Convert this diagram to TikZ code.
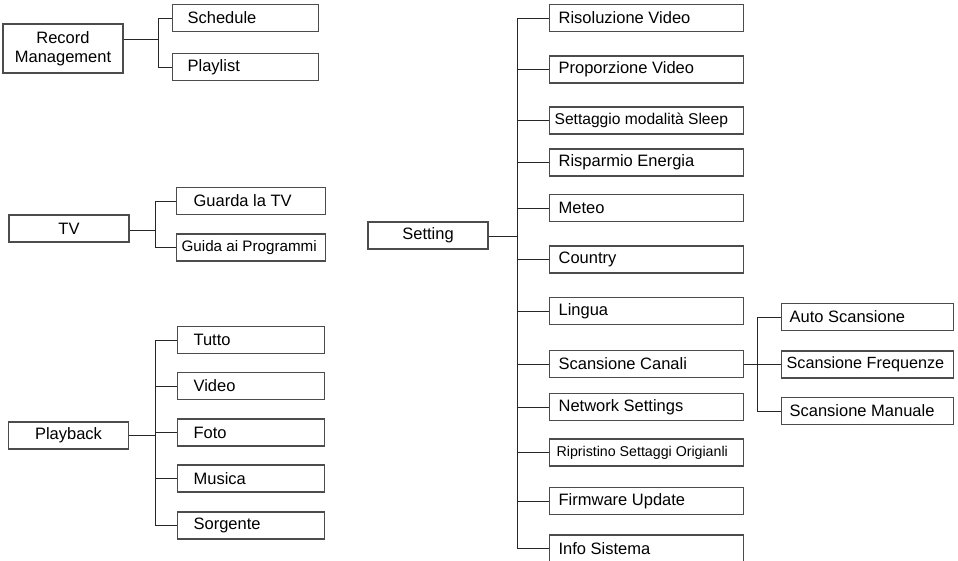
\documentclass[tikz,border=0pt]{standalone}
\usepackage{fontspec}
\setmainfont{Liberation Sans}
\usetikzlibrary{calc}
\tikzset{
  kotak/.style={draw=black!70, line width=1.2pt, minimum height=27pt, inner ysep=0pt, font=\fontsize{16.5}{19}\selectfont},
  induk/.style={kotak, minimum width=120pt, align=center},
  daun/.style 2 args={kotak, anchor=west, inner xsep=#1, text width=#2, align=flush left},
  garis/.style={draw=black!85, line width=1pt}
}

\begin{document}
\begin{tikzpicture}[x=1pt,y=-1pt]

    \useasboundingbox (0,0) rectangle (958,560);

    % Record Management
    \node[induk, minimum height=49pt] (rec) at (63,48.5) {Record\\Management};
    \node[daun={15pt}{116pt}] (sched) at (172,18) {Schedule};
    \node[daun={15pt}{116pt}] (plist) at (172,67) {Playlist};
    \coordinate (rb) at (158,39);
    \draw[garis] (rec.east |- rb) -- (rb);
    \draw[garis] (sched.west) -- (sched.west -| rb) -- (plist.west -| rb) -- (plist.west);

    % TV
    \node[induk] (tv) at (69,228.5) {TV};
    \node[daun={17pt}{115pt}] (guarda) at (176,201) {Guarda la TV};
    \node[daun={5pt}{139pt}, font=\fontsize{15.2}{19}\selectfont] (guida) at (176,247.5) {Guida ai Programmi};
    \coordinate (tb) at (155,230);
    \draw[garis] (tv.east |- tb) -- (tb);
    \draw[garis] (guarda.west) -- (guarda.west -| tb) -- (guida.west -| tb) -- (guida.west);

    % Playback
    \node[induk] (pb) at (68.5,435.5) {Playback};
    \foreach \nama/\y [count=\i] in {Tutto/340, Video/386, Foto/432.5, Musica/478.5, Sorgente/525.5}
        \node[daun={16pt}{115pt}] (pb\i) at (177,\y) {\nama};
    \coordinate (pbb) at (155,435.5);
    \draw[garis] (pb.east) -- (pbb);
    \draw[garis] (pb1.west -| pbb) -- (pb5.west -| pbb);
    \foreach \i in {1,...,5}
        \draw[garis] (pb\i.west -| pbb) -- (pb\i.west);

    % Setting
    \node[induk] (set) at (428,235.5) {Setting};
    \node[daun={9pt}{176pt}] (s1) at (549,18) {Risoluzione Video};
    \node[daun={9pt}{176pt}] (s2) at (549,69.5) {Proporzione Video};
    \node[daun={5pt}{184pt}, font=\fontsize{15.6}{19}\selectfont] (s3) at (549,120.5) {Settaggio modalità Sleep};
    \node[daun={9pt}{176pt}] (s4) at (549,162.5) {Risparmio Energia};
    \node[daun={9pt}{176pt}] (s5) at (549,208) {Meteo};
    \node[daun={9pt}{176pt}] (s6) at (549,259.5) {Country};
    \node[daun={9pt}{176pt}] (s7) at (549,311) {Lingua};
    \node[daun={9pt}{176pt}] (s8) at (549,364) {Scansione Canali};
    \node[daun={9pt}{176pt}] (s9) at (549,407) {Network Settings};
    \node[daun={7pt}{180pt}, font=\fontsize{14.2}{19}\selectfont] (s10) at (549,452.5) {Ripristino Settaggi Origianli};
    \node[daun={9pt}{176pt}] (s11) at (549,501) {Firmware Update};
    \node[daun={9pt}{176pt}] (s12) at (549,548.5) {Info Sistema};
    \coordinate (sb) at (517,236);
    \draw[garis] (set.east |- sb) -- (sb);
    \draw[garis] (s1.west -| sb) -- (s12.west -| sb);
    \foreach \i in {1,...,12}
        \draw[garis] (s\i.west -| sb) -- (s\i.west);

    % Scansione Canali
    \node[daun={8pt}{156pt}] (auto) at (781,317) {Auto Scansione};
    \node[daun={5pt}{162pt}, font=\fontsize{16.2}{19}\selectfont] (freq) at (781,364.5) {Scansione Frequenze};
    \node[daun={8pt}{156pt}] (man) at (781,411) {Scansione Manuale};
    \coordinate (cb) at (757,364.5);
    \draw[garis] (s8.east |- cb) -- (freq.west);
    \draw[garis] (auto.west) -- (auto.west -| cb) -- (man.west -| cb) -- (man.west);

\end{tikzpicture}
\end{document}
